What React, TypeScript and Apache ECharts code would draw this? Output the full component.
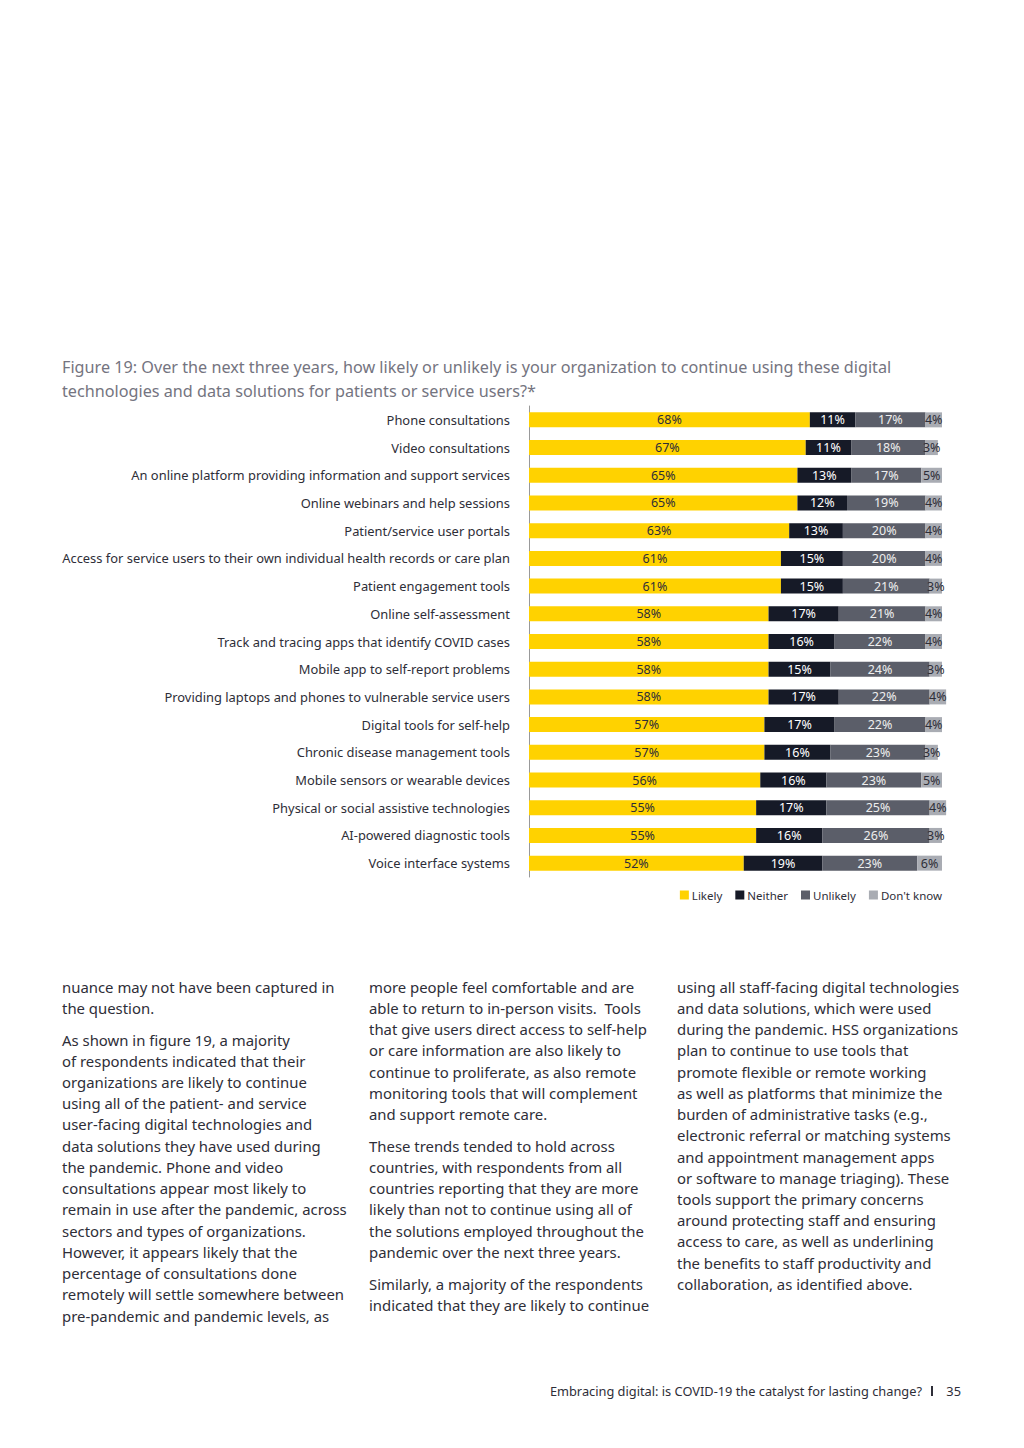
import React, { useEffect, useRef } from "react";
import * as echarts from "echarts";

const categories = [
  "Phone consultations",
  "Video consultations",
  "An online platform providing information and support services",
  "Online webinars and help sessions",
  "Patient/service user portals",
  "Access for service users to their own individual health records or care plan",
  "Patient engagement tools",
  "Online self-assessment",
  "Track and tracing apps that identify COVID cases",
  "Mobile app to self-report problems",
  "Providing laptops and phones to vulnerable service users",
  "Digital tools for self-help",
  "Chronic disease management tools",
  "Mobile sensors or wearable devices",
  "Physical or social assistive technologies",
  "AI-powered diagnostic tools",
  "Voice interface systems",
];

const likely = [68, 67, 65, 65, 63, 61, 61, 58, 58, 58, 58, 57, 57, 56, 55, 55, 52];
const neither = [11, 11, 13, 12, 13, 15, 15, 17, 16, 15, 17, 17, 16, 16, 17, 16, 19];
const unlikely = [17, 18, 17, 19, 20, 20, 21, 21, 22, 24, 22, 22, 23, 23, 25, 26, 23];
const dontKnow = [4, 3, 5, 4, 4, 4, 3, 4, 4, 3, 4, 4, 3, 5, 4, 3, 6];

const seriesNames = ["Likely", "Neither", "Unlikely", "Don't know"];

const titleLines = [
  "Figure 19: Over the next three years, how likely or unlikely is your organization to continue using these digital",
  "technologies and data solutions for patients or service users?*",
];

const col1 = [
  ["nuance may not have been captured in", 987],
  ["the question.", 1008],
  ["As shown in figure 19, a majority", 1040],
  ["of respondents indicated that their", 1061],
  ["organizations are likely to continue", 1082],
  ["using all of the patient- and service", 1103],
  ["user-facing digital technologies and", 1124],
  ["data solutions they have used during", 1146],
  ["the pandemic. Phone and video", 1167],
  ["consultations appear most likely to", 1188],
  ["remain in use after the pandemic, across", 1209],
  ["sectors and types of organizations.", 1231],
  ["However, it appears likely that the", 1252],
  ["percentage of consultations done", 1273],
  ["remotely will settle somewhere between", 1294],
  ["pre-pandemic and pandemic levels, as", 1316],
];
const col2 = [
  ["more people feel comfortable and are", 987],
  ["able to return to in-person visits.  Tools", 1008],
  ["that give users direct access to self-help", 1029],
  ["or care information are also likely to", 1050],
  ["continue to proliferate, as also remote", 1072],
  ["monitoring tools that will complement", 1093],
  ["and support remote care.", 1114],
  ["These trends tended to hold across", 1146],
  ["countries, with respondents from all", 1167],
  ["countries reporting that they are more", 1188],
  ["likely than not to continue using all of", 1209],
  ["the solutions employed throughout the", 1231],
  ["pandemic over the next three years.", 1252],
  ["Similarly, a majority of the respondents", 1284],
  ["indicated that they are likely to continue", 1305],
];
const col3 = [
  ["using all staff-facing digital technologies", 987],
  ["and data solutions, which were used", 1008],
  ["during the pandemic. HSS organizations", 1029],
  ["plan to continue to use tools that", 1050],
  ["promote flexible or remote working", 1072],
  ["as well as platforms that minimize the", 1093],
  ["burden of administrative tasks (e.g.,", 1114],
  ["electronic referral or matching systems", 1135],
  ["and appointment management apps", 1157],
  ["or software to manage triaging). These", 1178],
  ["tools support the primary concerns", 1199],
  ["around protecting staff and ensuring", 1220],
  ["access to care, as well as underlining", 1241],
  ["the benefits to staff productivity and", 1263],
  ["collaboration, as identified above.", 1284],
];

const FONT = '"Noto Sans", "DejaVu Sans", sans-serif';

export default function App() {
  const ref = useRef<HTMLDivElement>(null);
  useEffect(() => {
    if (!ref.current) return;
    const chart = echarts.init(ref.current, undefined, { renderer: "svg" });
    const colors = ["#FFD200", "#161A27", "#5B5E69", "#A9ACB3"];
    const labelColors = ["#2e2e38", "#ffffff", "#eeeeee", "#2e2e38"];
    const data = [likely, neither, unlikely, dontKnow];

    const bodyText = (lines: any[], x: number) =>
      lines.map(([t, y]) => ({
        type: "text",
        x,
        y,
        style: {
          text: t,
          fill: "#2e2e38",
          fontSize: 14.9,
          fontFamily: FONT,
          verticalAlign: "middle",
        },
      }));

    const graphic: any[] = [
      ...titleLines.map((t, i) => ({
        type: "text",
        x: 62,
        y: 367 + i * 24,
        style: {
          text: t,
          fill: "#747480",
          fontSize: 16.2,
          fontFamily: FONT,
          verticalAlign: "middle",
        },
      })),
      ...bodyText(col1, 62),
      ...bodyText(col2, 369),
      ...bodyText(col3, 677),
      {
        type: "text",
        x: 922,
        y: 1391,
        style: {
          text: "Embracing digital: is COVID-19 the catalyst for lasting change?",
          fill: "#2e2e38",
          fontSize: 12.8,
          fontFamily: FONT,
          align: "right",
          verticalAlign: "middle",
        },
      },
      {
        type: "rect",
        shape: { x: 931, y: 1386, width: 2, height: 10 },
        style: { fill: "#2e2e38" },
      },
      {
        type: "text",
        x: 961,
        y: 1391,
        style: {
          text: "35",
          fill: "#2e2e38",
          fontSize: 12.8,
          fontFamily: FONT,
          align: "right",
          verticalAlign: "middle",
        },
      },
    ];

    chart.setOption({
      animation: false,
      backgroundColor: "#ffffff",
      grid: { left: 529, right: 82, top: 406, bottom: 571, containLabel: false },
      legend: {
        data: seriesNames,
        right: 82,
        top: 889,
        padding: 0,
        itemWidth: 9,
        itemHeight: 9,
        itemGap: 13,
        icon: "rect",
        textStyle: { fontSize: 11.5, color: "#2e2e38", fontFamily: FONT, padding: [0, 0, 0, -2] },
      },
      xAxis: {
        type: "value",
        min: 0,
        max: 100,
        show: false,
      },
      yAxis: {
        type: "category",
        data: categories,
        inverse: true,
        axisLine: { show: true, lineStyle: { color: "#999999", width: 1 } },
        axisTick: { show: false },
        axisLabel: {
          color: "#2e2e38",
          fontSize: 12.9,
          fontFamily: FONT,
          margin: 19,
        },
      },
      series: seriesNames.map((name, i) => ({
        name,
        type: "bar",
        stack: "total",
        barWidth: 15,
        clip: false,
        itemStyle: { color: colors[i] },
        label: {
          show: true,
          position: "inside",
          formatter: "{c}%",
          color: labelColors[i],
          fontSize: 12.5,
          fontFamily: FONT,
        },
        data: data[i],
      })),
      graphic,
    });
    return () => chart.dispose();
  }, []);
  return (
    <div
      ref={ref}
      style={{ position: "absolute", left: 0, top: 0, width: 1024, height: 1448 }}
    />
  );
}
